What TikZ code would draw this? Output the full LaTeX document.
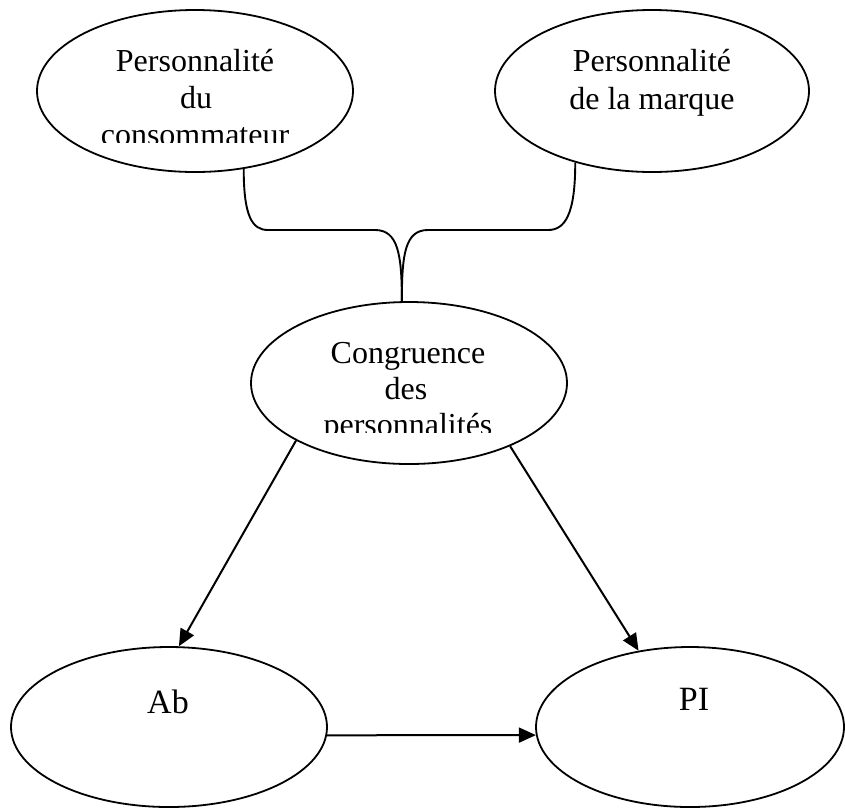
\documentclass[tikz,border=0pt]{standalone}
\usepackage{fontspec}
\setmainfont{Liberation Serif}
\usetikzlibrary{arrows.meta,shapes.geometric}

\tikzset{
  oval/.style={draw, ellipse, line width=1.8pt, inner sep=0pt,
               minimum width=316pt, minimum height=162pt},
  lbl/.style={anchor=base, inner sep=0pt, font=\fontsize{32}{36.8}\selectfont},
  biglbl/.style={anchor=base, inner sep=0pt, font=\fontsize{34}{39}\selectfont},
  link/.style={line width=1.9pt},
  arr/.style={line width=2pt, -{Triangle[length=17pt,width=15pt]}}
}

\begin{document}
\begin{tikzpicture}[x=1pt,y=-1pt]
  \useasboundingbox (0,0) rectangle (845,807);

  % the five constructs
  \node[oval] (p1)   at (195,91)  {};
  \node[oval, minimum width=314pt] (p2) at (652,91) {};
  \node[oval] (cong) at (409,383) {};
  \node[oval, minimum height=160pt] (ab) at (169,727) {};
  \node[oval, minimum width=308pt, minimum height=160pt] (pi) at (690,727) {};

  % labels of the upper ovals, cut off at the bottom of their text boxes
  \begin{scope}
    \clip (0,0) rectangle (845,142);
    \node[lbl] (p1a) at (195,71)  {Personnalité};
    \node[lbl] (p1b) at (196,108) {du};
    \node[lbl] (p1c) at (195,145) {consommateur};
    \node[lbl] (p2a) at (652,71)  {Personnalité};
    \node[lbl] (p2b) at (652,109) {de la marque};
  \end{scope}

  \begin{scope}
    \clip (0,300) rectangle (845,432);
    \node[lbl] (ca) at (408,363) {Congruence};
    \node[lbl] (cb) at (406,399) {des};
    \node[lbl] (cc) at (408,435) {personnalités};
  \end{scope}

  \node[biglbl] (abl) at (168,713) {Ab};
  \node[biglbl] (pil) at (694,710) {PI};

  % brace joining both personalities into the congruence
  \draw[link] (p1.302) .. controls +(0,47) and +(-16,0) .. (268,230)
    -- (375,230) .. controls +(23,0) and +(0,-47) .. (cong.95);
  \draw[link] (p2.223) .. controls +(0,52) and +(17,0) .. (548,230)
    -- (428,230) .. controls +(-23,0) and +(0,-47) .. (cong.95);

  % effects
  \draw[arr] (cong.207) -- (ab.83);
  \draw[arr] (cong.328) -- (pi.124);
  \draw[arr] (ab.-3) -- (pi.183);
\end{tikzpicture}
\end{document}
